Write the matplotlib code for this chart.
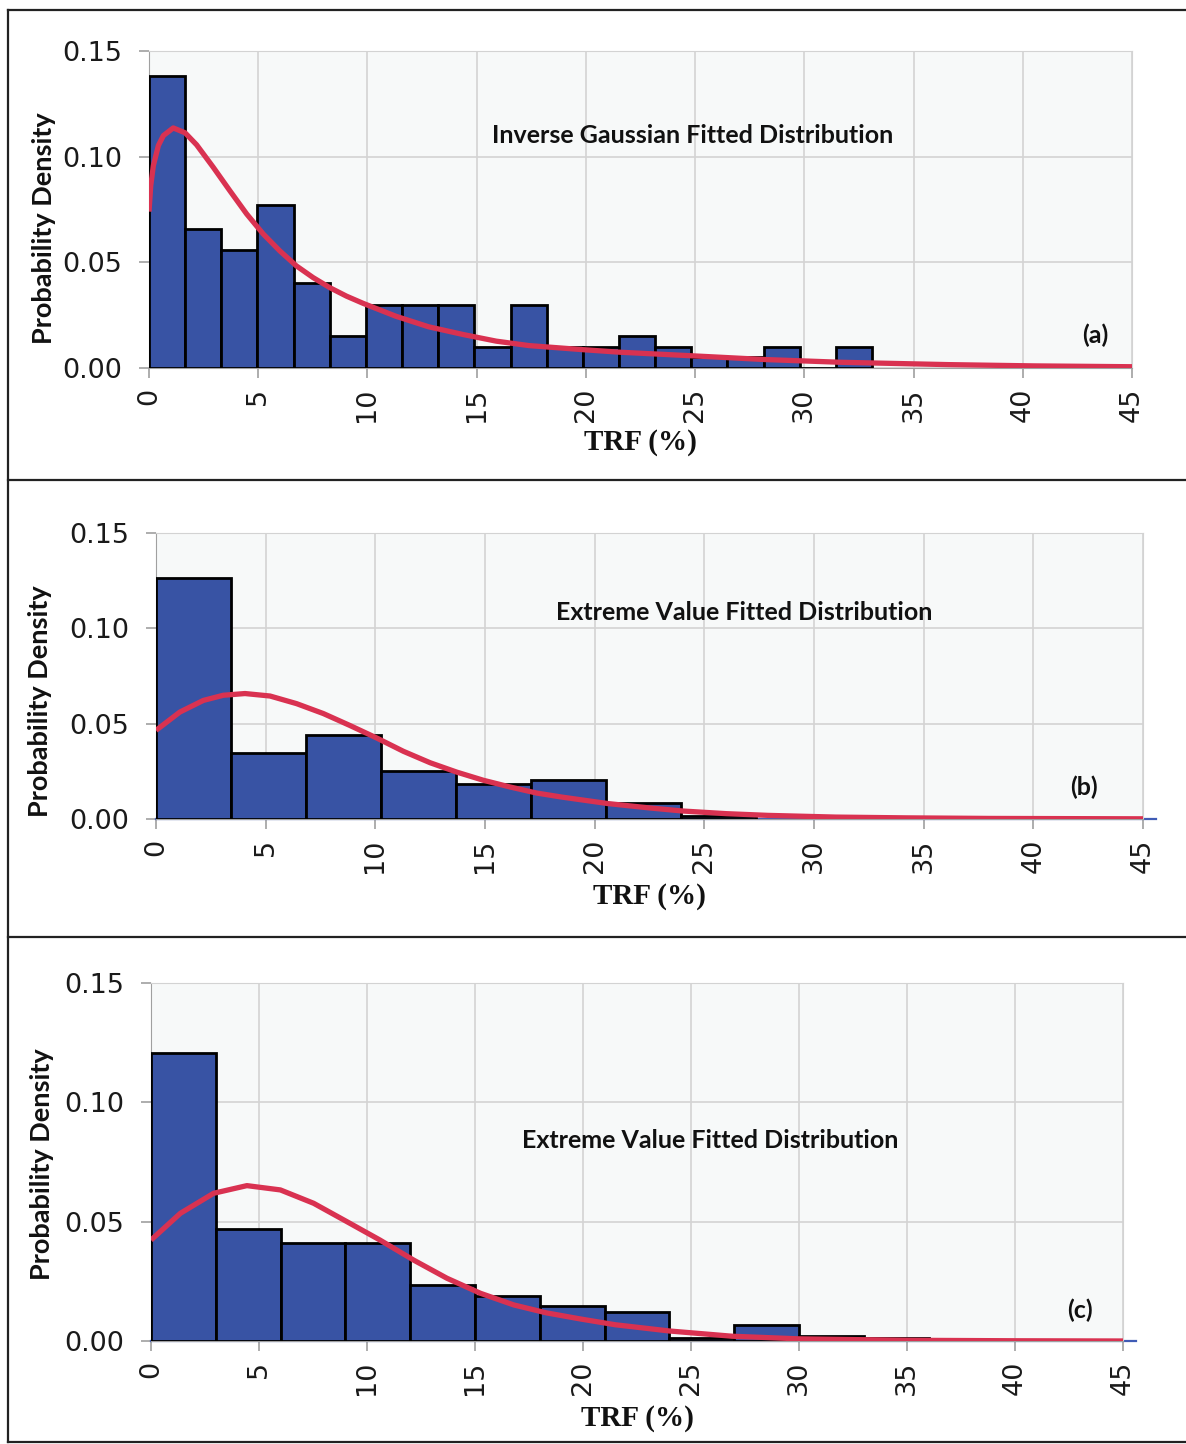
import numpy as np
import matplotlib
matplotlib.use('Agg')
import matplotlib.pyplot as plt
from matplotlib.lines import Line2D

# histogram densities (bins start at 0)
bin_w_a = 1.655
dens_a = [0.138, 0.066, 0.056, 0.077, 0.040, 0.015, 0.030, 0.030, 0.030, 0.010,
          0.030, 0.010, 0.010, 0.015, 0.010, 0.005, 0.005, 0.010, 0.0, 0.010]
bin_w_b = 3.42
dens_b = [0.1264, 0.0346, 0.0443, 0.0252, 0.0186, 0.0207, 0.0086, 0.0017]
bin_w_c = 3.0
dens_c = [0.1205, 0.0468, 0.0409, 0.0409, 0.0235, 0.0190, 0.0147, 0.0123,
          0.0012, 0.0067, 0.0022, 0.0012]

# fitted curves, points
fit_x_a = [0, 0.08, 0.2, 0.43, 0.66, 1.11, 1.65, 2.18, 2.94, 3.7, 4.47, 5.23, 5.99,
           6.75, 7.51, 8.28, 9.04, 9.8, 11.3, 12.8, 14.4, 15.9, 17.4, 19.7, 21.5,
           25, 28.2, 31.7, 36.6, 40.5, 45]
fit_y_a = [0.0740, 0.0863, 0.0958, 0.1053, 0.1100, 0.1136, 0.1113, 0.1056, 0.0950,
           0.0839, 0.0729, 0.0634, 0.0554, 0.0483, 0.0428, 0.0380, 0.0340, 0.0306,
           0.0245, 0.0195, 0.0158, 0.0127, 0.0106, 0.0088, 0.0075, 0.0057, 0.0040,
           0.0027, 0.0016, 0.0010, 0.0006]
fit_x_b = [0, 1.09, 2.16, 3.07, 4.06, 5.2, 6.41, 7.63, 8.85, 10.06, 11.28, 12.5,
           13.71, 14.93, 16.14, 17.36, 18.5, 20.6, 22.5, 24.0, 26, 27.9, 31, 34.2,
           38, 45]
fit_y_b = [0.0465, 0.0561, 0.0622, 0.0649, 0.0658, 0.0645, 0.0605, 0.0553, 0.0490,
           0.0425, 0.0355, 0.0295, 0.0246, 0.0203, 0.0168, 0.0136, 0.0115, 0.0081,
           0.0058, 0.0042, 0.0028, 0.0019, 0.0010, 0.0006, 0.0003, 0.0001]
fit_x_c = [0, 1.36, 2.9, 4.44, 5.99, 7.53, 9.07, 10.6, 12.16, 13.7, 15.25, 16.8,
           18.3, 19.9, 21.5, 24.0, 26.9, 30, 35, 40, 45]
fit_y_c = [0.0423, 0.0535, 0.0619, 0.0651, 0.0633, 0.0577, 0.0500, 0.0423, 0.0339,
           0.0263, 0.0200, 0.0151, 0.0118, 0.0092, 0.0068, 0.0042, 0.0020, 0.0009,
           0.0003, 0.0001, 0.0]

titles = ['Inverse Gaussian Fitted Distribution',
          'Extreme Value Fitted Distribution',
          'Extreme Value Fitted Distribution']
tags = ['(a)', '(b)', '(c)']
xticks = list(range(0, 50, 5))
yticks = [0.0, 0.05, 0.10, 0.15]

W, H = 1186, 1444
fig = plt.figure(figsize=(W / 100, H / 100), dpi=100)

# panel boxes: left, top, right, bottom in pixels
boxes = [(149, 51, 1132, 368), (156, 533, 1143, 819), (151, 983, 1123, 1341)]
title_pos = [(24.9, 0.110), (26.8, 0.1084), (25.9, 0.0838)]
tag_pos = [(43.3, 0.0153), (42.3, 0.0166), (43.0, 0.013)]
ylab_xy = [(44, 228), (40, 701), (42, 1164)]
xlab_y = [443, 897, 1418]

data = [(bin_w_a, dens_a, fit_x_a, fit_y_a),
        (bin_w_b, dens_b, fit_x_b, fit_y_b),
        (bin_w_c, dens_c, fit_x_c, fit_y_c)]

for k in range(3):
    l, t, r, b = boxes[k]
    ax = fig.add_axes([l / W, 1 - b / H, (r - l) / W, (b - t) / H])
    w, dens, fx, fy = data[k]
    edges = np.arange(len(dens)) * w
    ax.set_facecolor('#f7f9f9')
    ax.bar(edges, dens, width=w, align='edge', color='#3853a4',
           edgecolor='black', linewidth=2, zorder=3)
    ax.plot(fx, fy, color='#d93251', lw=3.8, zorder=4, solid_capstyle='butt')
    ax.set_xlim(0, 45)
    ax.set_ylim(0, 0.15)
    ax.set_xticks(xticks)
    ax.set_xticklabels([str(v) for v in xticks], rotation=90)
    ax.set_yticks(yticks)
    ax.set_yticklabels(['%.2f' % v for v in yticks])
    ax.grid(True, color='#d3d3d3', lw=1.2, zorder=0)
    ax.tick_params(axis='both', labelsize=19.5, length=7, color='#a0a0a0',
                   width=1.2, pad=7, labelcolor='#1a1a1a')
    ax.tick_params(axis='y', pad=12)
    for s in ['top', 'right']:
        ax.spines[s].set_color('#d3d3d3')
    ax.spines['left'].set_color('#a0a0a0')
    ax.spines['bottom'].set_color('#a0a0a0')
    if k > 0:
        ax.axhline(0, xmin=0, xmax=1.013, color='#3f5bb5', lw=1.6,
                   zorder=2, clip_on=False)
    ax.text(title_pos[k][0], title_pos[k][1], titles[k], ha='center', va='center',
            fontsize=18, fontweight='bold', family='Lato', color='#111111', zorder=5)
    ax.text(tag_pos[k][0], tag_pos[k][1], tags[k], ha='center', va='center',
            fontsize=18, fontweight='bold', family='Lato', color='#111111', zorder=5)
    fig.text(ylab_xy[k][0] / W, 1 - ylab_xy[k][1] / H, 'Probability Density',
             rotation=90, ha='center', va='center', fontsize=19.5,
             fontweight='bold', family='Lato', color='#111111')
    fig.text((l + r) / 2 / W, 1 - xlab_y[k] / H, 'TRF (%)', ha='center',
             va='center', fontsize=21, fontweight='bold',
             family='Liberation Serif', color='#111111')

# panel frame lines
for y in [10, 480, 937, 1442]:
    fig.add_artist(Line2D([8 / W, 1], [1 - y / H, 1 - y / H], color='#222222',
                          lw=1.6, transform=fig.transFigure))
fig.add_artist(Line2D([8 / W, 8 / W], [1 - 10 / H, 1 - 1442 / H], color='#222222',
                      lw=1.6, transform=fig.transFigure))

fig.savefig('out.png', dpi=100)
